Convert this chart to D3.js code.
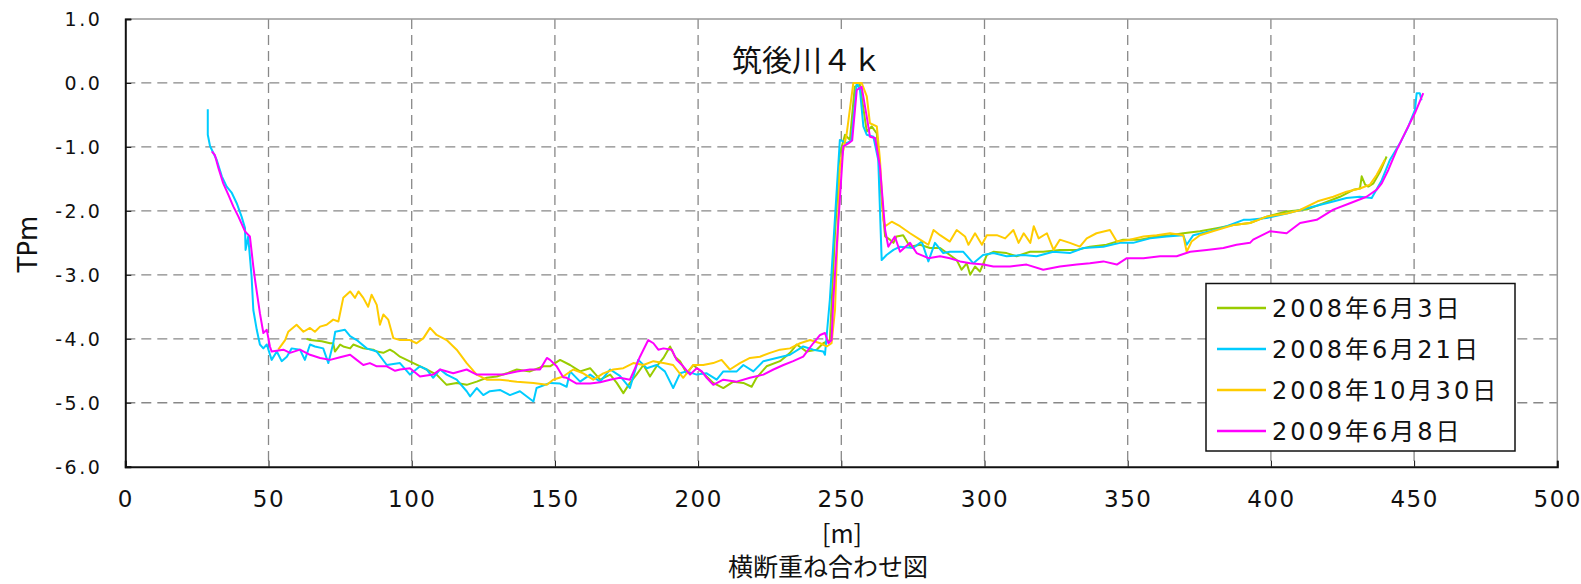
<!DOCTYPE html>
<html>
<head>
<meta charset="utf-8">
<script src="https://cdn.jsdelivr.net/npm/d3@7/dist/d3.min.js"></script>
<style>
  body { margin: 0; background: #fff; }
  svg { display: block; }
</style>
</head>
<body>
<div id="chart"></div>
<script>
const xTicks = [0, 50, 100, 150, 200, 250, 300, 350, 400, 450, 500];
const yTicks = [1, 0, -1, -2, -3, -4, -5, -6];
const seriesNames = ['2008年6月3日', '2008年6月21日', '2008年10月30日', '2009年6月8日'];
const chartTitle = '筑後川４ｋ';
const yTitle = 'TPm';
const xTitle = '[m]';
const subTitle = '横断重ね合わせ図';

// [distance m, elevation TPm]
const survey20080603 = [[63.3,-4.0],[64.5,-4.02],[68.6,-4.04],[71.5,-4.07],[72.6,-4.07],[73.2,-4.2],[75,-4.09],[76.1,-4.12],[78.5,-4.15],[79.6,-4.09],[83.1,-4.15],[86.6,-4.17],[87.8,-4.2],[90.1,-4.22],[92.4,-4.17],[93.6,-4.2],[95.9,-4.28],[100.6,-4.38],[105.2,-4.48],[108.7,-4.56],[112.2,-4.72],[115.7,-4.69],[119.2,-4.72],[122.7,-4.67],[126.2,-4.61],[129.7,-4.59],[133.2,-4.54],[136.7,-4.48],[141.3,-4.51],[146,-4.43],[148.3,-4.43],[151.8,-4.33],[155.3,-4.41],[158.8,-4.51],[162.3,-4.46],[165.8,-4.64],[169.3,-4.56],[171.6,-4.69],[173.9,-4.85],[176.2,-4.69],[178.5,-4.56],[180.9,-4.41],[183.2,-4.59],[185.5,-4.43],[187.9,-4.30],[190.2,-4.12],[191.9,-4.28],[193.7,-4.35],[196,-4.54],[198.3,-4.41],[201.8,-4.54],[205.3,-4.69],[208.8,-4.77],[212.3,-4.67],[215.8,-4.69],[218.7,-4.75],[220.4,-4.61],[223.9,-4.43],[228.6,-4.35],[232.1,-4.22],[234.4,-4.09],[237.9,-4.2],[241.4,-4.17],[243.7,-4.07],[246,-4.02],[247.8,-2.35],[249.5,-1.1],[251.3,-0.81],[253,-0.89],[254.7,-0.06],[256.5,-0.03],[258.9,-0.76],[260.6,-0.68],[262.4,-0.79],[264.1,-1.83],[265.3,-2.40],[267,-2.45],[268.2,-2.50],[269.3,-2.40],[271.6,-2.38],[274,-2.56],[277.5,-2.53],[281,-2.58],[284.5,-2.58],[287.9,-2.69],[290.3,-2.77],[292,-2.92],[293.8,-2.82],[295,-3.0],[296.7,-2.87],[298.4,-2.95],[299.6,-2.82],[300.8,-2.69],[303.1,-2.64],[307.7,-2.66],[311.2,-2.71],[315.9,-2.64],[320.5,-2.64],[326.3,-2.61],[332.2,-2.61],[336.8,-2.56],[342.6,-2.53],[348.4,-2.45],[354.3,-2.45],[360.1,-2.40],[364.8,-2.38],[369.4,-2.35],[375.2,-2.32],[381.1,-2.27],[386.9,-2.22],[392.7,-2.19],[398.5,-2.09],[405.5,-2.01],[412.5,-1.98],[418.3,-1.88],[424.1,-1.78],[428.8,-1.67],[431.1,-1.65],[431.7,-1.46],[432.9,-1.59],[434,-1.62],[435.8,-1.57],[438.1,-1.39],[440.4,-1.15]];

const survey20080621 = [[28.8,-0.41],[28.8,-0.81],[29.6,-0.99],[31.9,-1.2],[33.7,-1.46],[35.4,-1.62],[37.2,-1.72],[38.9,-1.88],[40.6,-2.09],[41.8,-2.27],[42,-2.61],[42.9,-2.40],[44.1,-3.03],[44.7,-3.55],[45.9,-3.86],[47,-4.09],[48.2,-4.15],[49.4,-4.09],[51.1,-4.33],[52.9,-4.2],[54.6,-4.35],[56.4,-4.28],[58.1,-4.15],[61,-4.17],[62.7,-4.33],[64.5,-4.09],[66.2,-4.12],[69.1,-4.15],[70.9,-4.38],[72.6,-4.07],[73.3,-3.89],[76.7,-3.86],[78.5,-3.96],[80.8,-4.02],[84.3,-4.15],[87.8,-4.2],[91.3,-4.41],[95.9,-4.38],[99.4,-4.56],[102.9,-4.43],[105.2,-4.48],[107.5,-4.61],[109.9,-4.48],[112.2,-4.56],[115.7,-4.64],[119.2,-4.82],[120.4,-4.9],[122.7,-4.77],[125,-4.88],[127.3,-4.82],[130.8,-4.8],[134.3,-4.88],[137.8,-4.82],[142.5,-4.98],[143.6,-4.77],[148.3,-4.69],[151.8,-4.7],[154.1,-4.75],[155.3,-4.51],[158.8,-4.67],[162.3,-4.56],[165.8,-4.67],[169.3,-4.48],[172.7,-4.58],[176.2,-4.77],[179.1,-4.33],[182.1,-4.46],[185.5,-4.41],[188.4,-4.51],[191.3,-4.77],[193.7,-4.54],[196,-4.51],[199.5,-4.56],[203,-4.54],[206.5,-4.64],[208.8,-4.51],[213.5,-4.51],[215.8,-4.41],[219.3,-4.51],[222.8,-4.35],[227.4,-4.30],[232.1,-4.25],[236.7,-4.12],[240.2,-4.17],[243.7,-4.2],[244.3,-4.25],[246,-3.39],[249.5,-0.89],[251.9,-0.94],[253.5,-0.9],[255.4,0],[256.5,-0.1],[257.7,-0.68],[258.9,-0.81],[261.2,-0.84],[262.9,-1.2],[264.1,-2.77],[265.8,-2.69],[268.2,-2.61],[270.5,-2.56],[275.1,-2.58],[278.1,-2.48],[280.4,-2.79],[282.7,-2.50],[285.6,-2.66],[287.9,-2.64],[292.6,-2.64],[296.1,-2.82],[299.5,-2.69],[303.1,-2.66],[307.7,-2.71],[313.5,-2.69],[318.2,-2.71],[324,-2.64],[329.8,-2.66],[334.5,-2.58],[341.5,-2.56],[347.3,-2.50],[351.9,-2.50],[357.8,-2.43],[363.6,-2.40],[369.4,-2.38],[370.6,-2.53],[372.9,-2.38],[378.7,-2.32],[384.6,-2.24],[390.4,-2.14],[392.7,-2.14],[398.5,-2.11],[405.5,-2.04],[412.5,-1.96],[419.4,-1.88],[426.4,-1.8],[431,-1.78],[435.2,-1.8],[438.7,-1.52],[441.6,-1.2],[445.1,-0.94],[448,-0.68],[450.3,-0.42],[450.9,-0.16],[452,-0.16],[452.6,-0.27]];

const survey20081030 = [[53.4,-4.17],[55.8,-4.02],[56.9,-3.89],[59.8,-3.78],[62.2,-3.89],[64.5,-3.83],[66.2,-3.89],[68,-3.81],[70.3,-3.78],[72.6,-3.70],[74.4,-3.73],[76.1,-3.36],[78.5,-3.26],[80.2,-3.36],[81.4,-3.26],[83.1,-3.36],[84.8,-3.5],[86,-3.31],[87.8,-3.47],[88.9,-3.78],[90.1,-3.62],[91.8,-3.70],[93.6,-3.99],[95.9,-4.02],[99.4,-4.02],[101.7,-4.07],[104.1,-3.99],[106.4,-3.83],[108.7,-3.94],[112.2,-4.02],[115.7,-4.17],[119.2,-4.38],[122.7,-4.56],[126.2,-4.64],[130.8,-4.64],[136.7,-4.67],[142.5,-4.69],[147.2,-4.72],[149.4,-4.64],[152.9,-4.59],[156.4,-4.48],[159.9,-4.54],[163.4,-4.64],[166.9,-4.54],[170.4,-4.48],[173.9,-4.46],[177.4,-4.38],[180.9,-4.41],[184.4,-4.35],[187.9,-4.38],[191.3,-4.41],[194.8,-4.61],[198.3,-4.41],[201.8,-4.41],[205.3,-4.38],[208.2,-4.33],[211.1,-4.48],[214.6,-4.38],[218.1,-4.30],[221.6,-4.28],[225.1,-4.22],[228.6,-4.17],[232.1,-4.15],[235.6,-4.07],[239.1,-4.02],[242.6,-4.07],[244.9,-4.12],[246.6,-4.07],[247.8,-3.55],[249.5,-1.31],[251.9,-0.79],[254.2,0],[257.1,0],[258.9,-0.21],[260,-0.63],[262.4,-0.68],[263.5,-1.2],[264.7,-2.14],[265.3,-2.24],[267.6,-2.17],[270.5,-2.24],[274,-2.35],[277.5,-2.45],[280.4,-2.53],[282.2,-2.30],[284.5,-2.38],[287.9,-2.48],[290.3,-2.30],[293.2,-2.40],[294.4,-2.53],[296.7,-2.35],[299.1,-2.53],[300.8,-2.38],[304.3,-2.38],[307.2,-2.43],[310.1,-2.30],[311.9,-2.50],[313.7,-2.35],[316,-2.50],[317.2,-2.24],[318.9,-2.43],[321.8,-2.35],[324.1,-2.61],[326.3,-2.45],[329.8,-2.50],[333.3,-2.56],[335.7,-2.43],[339.1,-2.35],[343.8,-2.30],[346.2,-2.48],[350.8,-2.45],[355.5,-2.40],[360.1,-2.38],[364.8,-2.35],[369.4,-2.38],[370.6,-2.64],[372.3,-2.48],[375.2,-2.38],[381.1,-2.30],[386.9,-2.22],[392.7,-2.19],[398.5,-2.09],[405.5,-2.04],[410,-1.99],[416.3,-1.85],[421.8,-1.78],[426.4,-1.70],[431.1,-1.65],[434.6,-1.59],[436.9,-1.44],[439.8,-1.20]];

const survey20090608 = [[30.2,-1.07],[31.3,-1.13],[32.5,-1.33],[34.2,-1.57],[36,-1.75],[37.7,-1.93],[39.5,-2.09],[41.8,-2.32],[43.5,-2.40],[44.7,-2.87],[45.3,-3.08],[47,-3.6],[48.2,-3.91],[49.4,-3.86],[50.5,-4.12],[51.1,-4.2],[55.2,-4.17],[57.5,-4.22],[61,-4.17],[64.5,-4.25],[68,-4.30],[71.5,-4.33],[75,-4.29],[78.5,-4.25],[80.8,-4.33],[83.1,-4.41],[85.4,-4.38],[87.8,-4.43],[91.3,-4.43],[94.2,-4.5],[95.9,-4.48],[99.4,-4.46],[102.9,-4.59],[107.5,-4.56],[109.9,-4.48],[114.5,-4.54],[119.2,-4.48],[122.7,-4.56],[127.3,-4.56],[132,-4.56],[136.7,-4.51],[141.3,-4.48],[144.8,-4.48],[147.2,-4.30],[148.3,-4.33],[150.6,-4.43],[152.9,-4.6],[154.1,-4.61],[157.6,-4.7],[162.3,-4.7],[165.8,-4.68],[169.3,-4.64],[172.7,-4.61],[176.2,-4.64],[178,-4.46],[179.7,-4.28],[182.6,-4.02],[184.4,-4.07],[186.1,-4.17],[187.9,-4.15],[190.8,-4.17],[192.5,-4.33],[194.8,-4.43],[197.2,-4.56],[199.5,-4.46],[201.3,-4.51],[203,-4.61],[205.3,-4.72],[208.8,-4.64],[213.5,-4.67],[218.1,-4.61],[222.8,-4.56],[226.3,-4.48],[229.8,-4.41],[233.2,-4.35],[236.7,-4.28],[240.2,-4.07],[242.6,-3.94],[244.3,-3.91],[245.5,-4.07],[246.6,-4.02],[247.2,-3.39],[250.7,-0.99],[252.6,-0.94],[253.8,-0.9],[255.4,-0.11],[257.1,-0.06],[258.9,-0.53],[260,-0.84],[261.8,-0.86],[263.5,-1.31],[265.3,-2.30],[266.4,-2.56],[268.7,-2.40],[270.5,-2.64],[274,-2.50],[276.3,-2.66],[280.4,-2.74],[284.5,-2.71],[287.9,-2.74],[291.5,-2.79],[295,-2.82],[299.6,-2.84],[303.1,-2.87],[308.9,-2.87],[314.7,-2.84],[320.5,-2.92],[326.3,-2.87],[332.2,-2.84],[336.8,-2.82],[341.5,-2.79],[346.2,-2.84],[349.7,-2.74],[355.5,-2.74],[361.3,-2.71],[367.1,-2.71],[371.8,-2.64],[377.6,-2.61],[383.4,-2.58],[388,-2.53],[392.7,-2.50],[393.8,-2.45],[399.6,-2.32],[405.5,-2.35],[410.2,-2.19],[416,-2.14],[421.8,-1.98],[427.6,-1.88],[433.4,-1.78],[436.9,-1.67],[438.7,-1.57],[441,-1.36],[443.9,-1.05],[447.4,-0.73],[450.3,-0.47],[453.2,-0.16]];

const surveys = [survey20080603, survey20080621, survey20081030, survey20090608];
const colors = ['#99cc00', '#00ccff', '#ffcc00', '#ff00ff'];

const width = 1581, height = 584;
const plotLeft = 125.3, plotRight = 1557.3, plotTop = 19, plotBottom = 466.7;
const numFont = 'DejaVu Sans, Noto Sans CJK JP, sans-serif';
const jpFont = 'Noto Sans CJK JP, sans-serif';

var svg = d3.select('#chart')
    .append('svg')
    .attr('width', width)
    .attr('height', height)
    .style('background', '#fff');

var x = d3.scaleLinear().domain([0, 500]).range([plotLeft, plotRight]);
var y = d3.scaleLinear().domain([-6, 1]).range([plotBottom, plotTop]);

// grid
var grid = svg.append('g').attr('class', 'grid');
grid.selectAll('.gx')
    .data(xTicks.slice(1, -1))
    .enter().append('line')
    .attr('x1', d => x(d)).attr('x2', d => x(d))
    .attr('y1', plotTop).attr('y2', plotBottom)
    .style('stroke', '#888').style('stroke-width', 1.3)
    .style('stroke-dasharray', '10,6');
grid.selectAll('.gy')
    .data(yTicks.slice(1, -1))
    .enter().append('line')
    .attr('x1', plotLeft).attr('x2', plotRight)
    .attr('y1', d => y(d)).attr('y2', d => y(d))
    .style('stroke', '#888').style('stroke-width', 1.3)
    .style('stroke-dasharray', '10,6');

// frame
svg.append('line').attr('x1', plotLeft).attr('x2', plotRight).attr('y1', plotTop).attr('y2', plotTop)
    .style('stroke', '#999').style('stroke-width', 1.5);
svg.append('line').attr('x1', plotRight).attr('x2', plotRight).attr('y1', plotTop).attr('y2', plotBottom)
    .style('stroke', '#999').style('stroke-width', 1.5);

// title box over grid
svg.append('rect')
    .attr('x', 706).attr('y', 34).attr('width', 190).attr('height', 48)
    .style('fill', '#fff');
svg.append('text')
    .attr('x', 807).attr('y', 71)
    .attr('text-anchor', 'middle')
    .style('font-family', jpFont).style('font-size', '30px')
    .style('fill', '#111')
    .text(chartTitle);

// series
var line = d3.line()
    .x(d => x(d[0]))
    .y(d => y(d[1]));
svg.append('g').selectAll('.series')
    .data(surveys)
    .enter().append('path')
    .attr('class', 'series')
    .attr('d', d => line(d))
    .style('fill', 'none')
    .style('stroke', (d, i) => colors[i])
    .style('stroke-width', 2)
    .style('stroke-linejoin', 'round');

// axes
var xAxis = d3.axisBottom(x).tickValues(xTicks).tickSize(-6).tickPadding(0).tickFormat(d3.format('d'));
var gx = svg.append('g').attr('transform', `translate(0,${plotBottom})`).call(xAxis);
gx.select('.domain').style('stroke', '#111').style('stroke-width', 2);
gx.selectAll('.tick line').style('stroke', '#111');
gx.selectAll('.tick text')
    .attr('y', 40).attr('dy', 0)
    .style('font-family', numFont).style('font-size', '23px')
    .style('letter-spacing', '1.5px')
    .style('fill', '#111');

var yAxis = d3.axisLeft(y).tickValues(yTicks).tickSize(-6).tickPadding(0).tickFormat(d3.format('.1f'));
var gy = svg.append('g').attr('transform', `translate(${plotLeft},0)`).call(yAxis);
gy.select('.domain').style('stroke', '#111').style('stroke-width', 2);
gy.selectAll('.tick line').style('stroke', '#111');
gy.selectAll('.tick text')
    .attr('x', -23).attr('dy', '0.36em')
    .style('font-family', numFont).style('font-size', '19px')
    .style('letter-spacing', '2.5px')
    .style('fill', '#111')
    .text(d => d3.format('.1f')(d).replace('−', '-'));

// axis titles
svg.append('text')
    .attr('transform', 'translate(37,244) rotate(-90)')
    .attr('text-anchor', 'middle')
    .style('font-family', numFont).style('font-size', '26px')
    .style('fill', '#111')
    .text(yTitle);
svg.append('text')
    .attr('x', 842).attr('y', 543)
    .attr('text-anchor', 'middle')
    .style('font-family', jpFont).style('font-size', '25px')
    .style('fill', '#111')
    .text(xTitle);
svg.append('text')
    .attr('x', 828).attr('y', 576)
    .attr('text-anchor', 'middle')
    .style('font-family', jpFont).style('font-size', '25px')
    .style('fill', '#111')
    .text(subTitle);

// legend
var legend = svg.append('g').attr('class', 'legend');
legend.append('rect')
    .attr('x', 1206).attr('y', 283.5).attr('width', 309).attr('height', 167.5)
    .style('fill', '#fff').style('stroke', '#111').style('stroke-width', 1.5);
var items = legend.selectAll('.item')
    .data(seriesNames)
    .enter().append('g')
    .attr('transform', (d, i) => `translate(1217,${308 + i * 41})`);
items.append('line')
    .attr('x1', 0).attr('x2', 49)
    .style('stroke', (d, i) => colors[i]).style('stroke-width', 2.5);
items.append('text')
    .attr('x', 55).attr('dy', '0.36em')
    .style('font-family', numFont).style('font-size', '24px')
    .style('letter-spacing', '3px')
    .style('fill', '#111')
    .text(d => d);
</script>
</body>
</html>
